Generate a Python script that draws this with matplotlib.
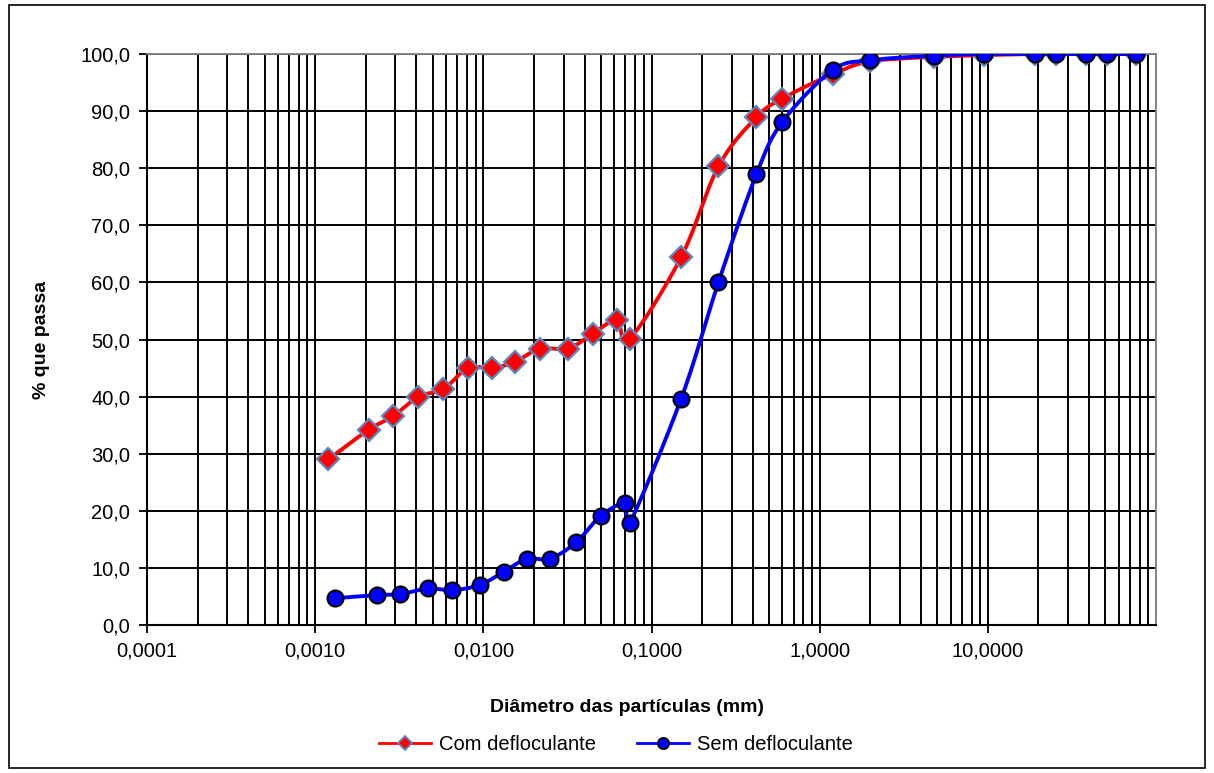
import numpy as np
import matplotlib
matplotlib.use("Agg")
import matplotlib.pyplot as plt
from matplotlib.patches import Rectangle
from matplotlib.ticker import FixedLocator, LogLocator, NullFormatter

plt.rcParams['font.family'] = ['Liberation Sans', 'DejaVu Sans']

# ---- data ----
com_diam = [0.00120, 0.00208, 0.00292, 0.00410, 0.00578, 0.00810, 0.0113, 0.0155,
            0.0216, 0.0319, 0.0446, 0.0620, 0.074, 0.15, 0.25, 0.42, 0.60, 1.2,
            2.0, 4.8, 9.5, 19.0, 25.4, 38.1, 50.8, 76.2]
com_pass = [29.0, 34.2, 36.6, 40.0, 41.3, 45.0, 45.0, 46.1, 48.4, 48.4, 51.0, 53.4,
            50.1, 64.4, 80.3, 88.9, 92.2, 96.5, 98.7, 99.5, 99.8, 100.0, 100.0,
            100.0, 100.0, 100.0]

sem_diam = [0.00132, 0.00232, 0.00320, 0.00467, 0.00652, 0.00950, 0.0132, 0.0181,
            0.0249, 0.0357, 0.0499, 0.0699, 0.074, 0.15, 0.25, 0.42, 0.60, 1.2,
            2.0, 4.8, 9.5, 19.0, 25.4, 38.1, 50.8, 76.2]
sem_pass = [4.7, 5.25, 5.4, 6.4, 6.1, 7.0, 9.3, 11.6, 11.6, 14.5, 19.1, 21.3, 17.8,
            39.6, 60.0, 78.9, 88.1, 97.2, 98.9, 99.7, 100.0, 100.0, 100.0, 100.0,
            100.0, 100.0]

x_ticks = [0.0001, 0.001, 0.01, 0.1, 1, 10]
x_labels = ["0,0001", "0,0010", "0,0100", "0,1000", "1,0000", "10,0000"]
y_ticks = list(range(0, 101, 10))
y_labels = [f"{v},0" for v in y_ticks]


def smooth(xs, ys, n=24):
    # excel-like smoothed line (bezier through the points, in screen-ish space)
    u = np.log10(xs) * 168.0
    v = np.asarray(ys) * 5.71
    P = np.column_stack([u, v])
    out = [P[0]]
    for i in range(len(P) - 1):
        p0 = P[i - 1] if i > 0 else P[i]
        p1 = P[i]
        p2 = P[i + 1]
        p3 = P[i + 2] if i + 2 < len(P) else P[i + 1]
        c1 = p1 + (p2 - p0) / 6.0
        c2 = p2 - (p3 - p1) / 6.0
        t = np.linspace(0, 1, n)[1:, None]
        b = ((1 - t) ** 3) * p1 + 3 * ((1 - t) ** 2) * t * c1 + 3 * (1 - t) * t ** 2 * c2 + t ** 3 * p2
        out.extend(b)
    out = np.array(out)
    return 10 ** (out[:, 0] / 168.0), out[:, 1] / 5.71


fig = plt.figure(figsize=(12.14, 7.73), dpi=100)
ax = fig.add_axes([147 / 1214, 1 - 625 / 773, (1156 - 147) / 1214, (625 - 54) / 773])

ax.set_xscale('log')
ax.set_xlim(0.0001, 100)
ax.set_ylim(0, 100)

# grid
ax.set_axisbelow(True)
ax.yaxis.set_major_locator(FixedLocator(y_ticks))
ax.xaxis.set_major_locator(FixedLocator(x_ticks))
ax.xaxis.set_minor_locator(LogLocator(base=10, subs=np.arange(2, 10), numticks=20))
ax.xaxis.set_minor_formatter(NullFormatter())
ax.set_xticklabels(x_labels)
ax.set_yticklabels(y_labels)
ax.grid(True, which='major', axis='both', color='black', lw=1.4)
ax.grid(True, which='minor', axis='x', color='black', lw=1.4)
ax.vlines(100, 0, 100, color='#808080', lw=1.3)

ax.tick_params(axis='both', which='major', direction='out', length=6, width=1.3,
               labelsize=14.5, pad=6)
ax.tick_params(axis='x', which='minor', length=0)

for s in ['top', 'right']:
    ax.spines[s].set_color('#808080')
    ax.spines[s].set_linewidth(1.3)
for s in ['left', 'bottom']:
    ax.spines[s].set_color('black')
    ax.spines[s].set_linewidth(1.5)

# curves
cx, cy = smooth(com_diam, com_pass)
sx, sy = smooth(sem_diam, sem_pass)
ax.plot(cx, cy, color='#FF0000', lw=2.8, zorder=3)
ax.plot(com_diam, com_pass, linestyle='none', marker='D', ms=11, mfc='#FF0000',
        mec='#5B87BF', mew=1.6, zorder=4)
ax.plot(sx, sy, color='#0000FF', lw=2.8, zorder=5)
ax.plot(sem_diam, sem_pass, linestyle='none', marker='o', ms=11.5, mfc='#0000FF',
        mec='black', mew=1.5, zorder=6)

ax.set_ylabel('% que passa', fontsize=14, fontweight='bold', labelpad=22)
fig.text(627 / 1214, 1 - 707 / 773, 'Diâmetro das partículas (mm)', fontsize=14,
         fontweight='bold', ha='center', va='center')

h1, = ax.plot([], [], color='#FF0000', lw=2.0, marker='D', ms=7, mfc='#FF0000',
              mec='#5B87BF', mew=1.3)
h2, = ax.plot([], [], color='#0000FF', lw=2.0, marker='o', ms=8, mfc='#0000FF',
              mec='black', mew=1.3)
fig.legend([h1, h2], ['Com defloculante', 'Sem defloculante'], ncol=2, frameon=False,
           loc='center', bbox_to_anchor=(616 / 1214, 1 - 745 / 773), fontsize=14.5,
           handlelength=2.6, handletextpad=0.4, columnspacing=2.0)

# outer frame of the chart
fig.patches.append(Rectangle((9 / 1214, 1 - 768 / 773), (1205 - 9) / 1214, (768 - 5) / 773,
                             transform=fig.transFigure, fill=False, ec='black', lw=1.2))

fig.savefig('out.png', dpi=100)
